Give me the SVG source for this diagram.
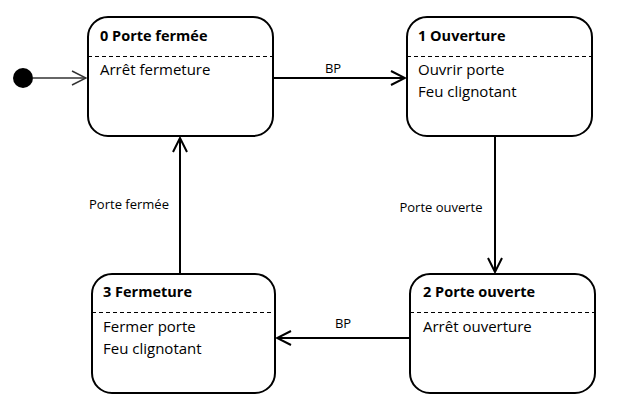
<svg xmlns="http://www.w3.org/2000/svg" width="633" height="412" viewBox="0 0 633 412">
<style>
.box{fill:#fff;stroke:#000;stroke-width:2}
.sep{stroke:#000;stroke-width:1;stroke-dasharray:4 3}
.title{font-family:"Open Sans","Liberation Sans",sans-serif;font-weight:bold;font-size:14.5px;fill:#000}
.body{font-family:"Open Sans","Liberation Sans",sans-serif;font-size:15px;fill:#000}
.lbl{font-family:"Open Sans","Liberation Sans",sans-serif;font-size:13px;fill:#000}
.edge{fill:none;stroke:#000;stroke-width:2}
.init{fill:none;stroke:#333;stroke-width:1.5}
</style>
<defs>
<marker id="arr" viewBox="0 0 16 16" refX="15" refY="8" markerWidth="16" markerHeight="16" markerUnits="userSpaceOnUse" orient="auto">
<path d="M1,1 L15,8 L1,15" fill="none" stroke="#000" stroke-width="2"/>
</marker>
<marker id="arrInit" viewBox="0 0 16 16" refX="15" refY="8" markerWidth="16" markerHeight="16" markerUnits="userSpaceOnUse" orient="auto">
<path d="M1,1 L15,8 L1,15" fill="none" stroke="#333" stroke-width="1.5"/>
</marker>
</defs>
<rect width="633" height="412" fill="#fff"/>
<g id="initial">
<circle cx="23" cy="78" r="10" fill="#000"/>
</g>
<g id="node0">
<rect class="box" x="88" y="17" width="185" height="119" rx="20"/>
<line class="sep" x1="88" y1="56.5" x2="273" y2="56.5"/>
<text class="title" x="100" y="41">0 Porte fermée</text>
<text class="body" x="100" y="75">Arrêt fermeture</text>
</g>
<g id="node1">
<rect class="box" x="407" y="17" width="185" height="119" rx="20"/>
<line class="sep" x1="407" y1="56.5" x2="592" y2="56.5"/>
<text class="title" x="418" y="41">1 Ouverture</text>
<text class="body" x="418" y="75">Ouvrir porte</text>
<text class="body" x="418" y="97">Feu clignotant</text>
</g>
<g id="node2">
<rect class="box" x="410" y="274" width="185" height="119" rx="20"/>
<line class="sep" x1="410" y1="312.5" x2="595" y2="312.5"/>
<text class="title" x="423" y="297">2 Porte ouverte</text>
<text class="body" x="423" y="332">Arrêt ouverture</text>
</g>
<g id="node3">
<rect class="box" x="92" y="274" width="183" height="119" rx="20"/>
<line class="sep" x1="92" y1="312.5" x2="275" y2="312.5"/>
<text class="title" x="103" y="297">3 Fermeture</text>
<text class="body" x="103" y="332">Fermer porte</text>
<text class="body" x="103" y="354">Feu clignotant</text>
</g>
<g id="connectors">
<line class="init" x1="33" y1="78" x2="86" y2="78" marker-end="url(#arrInit)"/>
<line class="edge" x1="273" y1="78" x2="405" y2="78" marker-end="url(#arr)"/>
<text class="lbl" x="333" y="73" text-anchor="middle">BP</text>
<line class="edge" x1="495" y1="136" x2="495" y2="272" marker-end="url(#arr)"/>
<text class="lbl" x="441" y="212" text-anchor="middle">Porte ouverte</text>
<line class="edge" x1="410" y1="338" x2="277" y2="338" marker-end="url(#arr)"/>
<text class="lbl" x="343" y="328" text-anchor="middle">BP</text>
<line class="edge" x1="180" y1="274" x2="180" y2="138" marker-end="url(#arr)"/>
<text class="lbl" x="129" y="209" text-anchor="middle">Porte fermée</text>
</g>
</svg>
